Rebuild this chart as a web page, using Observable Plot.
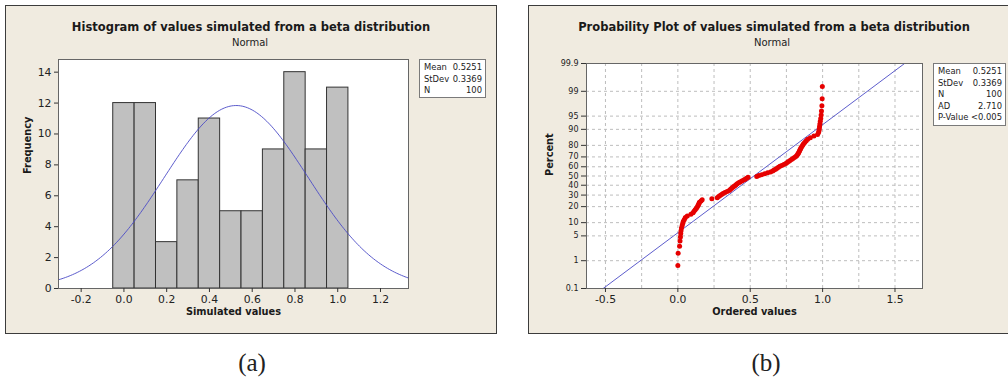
<!DOCTYPE html>
<html>
<head>
<meta charset="utf-8">
<script src="https://cdn.jsdelivr.net/npm/d3@7"></script>
<script src="https://cdn.jsdelivr.net/npm/@observablehq/plot@0.6"></script>
<style>
  html, body { margin: 0; padding: 0; background: #ffffff; }
  #page { position: relative; width: 1008px; height: 381px; overflow: hidden; font-family: "DejaVu Sans", sans-serif; color: #1a1a1a; }
  .panel { position: absolute; top: 5px; width: 490px; height: 327px; background: #f0ebe0; border: 1.5px solid #3c3c3c; }
  .title { position: absolute; width: 600px; text-align: center; font-weight: bold; font-size: 11.5px; white-space: nowrap; }
  .subtitle { position: absolute; width: 200px; text-align: center; font-size: 10px; white-space: nowrap; color: #222; }
  .stats { position: absolute; background: #ffffff; border: 1px solid #7a7a7a; font-size: 8.4px; line-height: 11.6px; padding: 2px 3px 0 4px; box-sizing: border-box; color: #222; }
  .stats div { display: flex; justify-content: space-between; }
  .plotbox { position: absolute; top: 0; }
  .caption { position: absolute; width: 100px; text-align: center; font-family: "Liberation Serif", serif; font-size: 25px; line-height: 30px; color: #222; }
</style>
</head>
<body>
<div id="page"></div>
<script>
// ---------- Histogram data ----------
const histEdges = [-0.05, 0.05, 0.15, 0.25, 0.35, 0.45, 0.55, 0.65, 0.75, 0.85, 0.95, 1.05];
const histCounts = [12, 12, 3, 7, 11, 5, 5, 9, 14, 9, 13];
const histXTicks = [-0.2, 0.0, 0.2, 0.4, 0.6, 0.8, 1.0, 1.2];
const histYTicks = [0, 2, 4, 6, 8, 10, 12, 14];

// ---------- Fitted normal summary ----------
const statNames = ["Mean", "StDev", "N", "AD", "P-Value"];
const statValues = ["0.5251", "0.3369", "100", "2.710", "<0.005"];
const fitMean = 0.5251;
const fitSd = 0.3369;
const sampleN = 100;
const binWidth = 0.1;

// ---------- Ordered sample values (probability plot) ----------
const orderedValues = [
  0.000, 0.002, 0.012, 0.015, 0.018, 0.020, 0.022, 0.025, 0.030, 0.034, 0.038, 0.045,
  0.052, 0.065, 0.090, 0.105, 0.112, 0.120, 0.127, 0.133, 0.138, 0.143, 0.147, 0.149,
  0.160, 0.168, 0.235,
  0.272, 0.282, 0.292, 0.302, 0.312, 0.325, 0.340,
  0.355, 0.362, 0.370, 0.378, 0.386, 0.394, 0.402, 0.410, 0.420, 0.430, 0.442,
  0.455, 0.465, 0.475, 0.485, 0.545,
  0.560, 0.580, 0.600, 0.620, 0.640,
  0.655, 0.665, 0.675, 0.685, 0.695, 0.705, 0.718, 0.732, 0.746,
  0.755, 0.765, 0.775, 0.785, 0.795, 0.805, 0.815, 0.822, 0.828, 0.832, 0.836, 0.840, 0.844, 0.848,
  0.852, 0.858, 0.864, 0.870, 0.878, 0.887, 0.897, 0.915, 0.940,
  0.965, 0.972, 0.975, 0.977, 0.979, 0.981, 0.984, 0.987, 0.990, 0.992, 0.995, 0.997, 0.998
];
const probPercentTicks = [0.1, 1, 5, 10, 20, 30, 40, 50, 60, 70, 80, 90, 95, 99, 99.9];
const probXTicks = [-0.5, 0.0, 0.5, 1.0, 1.5];
const probXGrid = [-0.5, -0.25, 0, 0.25, 0.5, 0.75, 1.0, 1.25, 1.5];

// Inverse standard normal CDF (Acklam's rational approximation)
function probit(p) {
  const a = [-3.969683028665376e+01, 2.209460984245205e+02, -2.759285104469687e+02, 1.383577518672690e+02, -3.066479806614716e+01, 2.506628277459239e+00];
  const b = [-5.447609879822406e+01, 1.615858368580409e+02, -1.556989798598866e+02, 6.680131188771972e+01, -1.328068155288572e+01];
  const c = [-7.784894002430293e-03, -3.223964580411365e-01, -2.400758277161838e+00, -2.549671010432133e+00, 4.374664141464968e+00, 2.938163982698783e+00];
  const d = [7.784695709041462e-03, 3.224671290700398e-01, 2.445134137142996e+00, 3.754408661907416e+00];
  const pl = 0.02425, ph = 1 - pl;
  if (p < pl) {
    const q = Math.sqrt(-2 * Math.log(p));
    return (((((c[0]*q+c[1])*q+c[2])*q+c[3])*q+c[4])*q+c[5]) / ((((d[0]*q+d[1])*q+d[2])*q+d[3])*q+1);
  }
  if (p <= ph) {
    const q = p - 0.5, r = q * q;
    return (((((a[0]*r+a[1])*r+a[2])*r+a[3])*r+a[4])*r+a[5])*q / (((((b[0]*r+b[1])*r+b[2])*r+b[3])*r+b[4])*r+1);
  }
  const q = Math.sqrt(-2 * Math.log(1 - p));
  return -(((((c[0]*q+c[1])*q+c[2])*q+c[3])*q+c[4])*q+c[5]) / ((((d[0]*q+d[1])*q+d[2])*q+d[3])*q+1);
}

const fmt1 = d => d.toFixed(1);
const FONT = "DejaVu Sans, sans-serif";
const page = document.getElementById("page");

function addDiv(cls, css, html) {
  const el = document.createElement("div");
  el.className = cls;
  Object.assign(el.style, css);
  if (html != null) el.innerHTML = html;
  page.appendChild(el);
  return el;
}

function addStats(left, top, width, height, count) {
  const box = addDiv("stats", {left: left + "px", top: top + "px", width: width + "px", height: height + "px"});
  for (let i = 0; i < count; ++i) {
    const row = document.createElement("div");
    row.innerHTML = `<span>${statNames[i]}</span><span>${statValues[i].replace("<", "&lt;")}</span>`;
    box.appendChild(row);
  }
}

// ---------- Panel (a): histogram with fitted normal ----------
addDiv("panel", {left: "5px"});
addDiv("title", {left: (251 - 300) + "px", top: "20px"}, "Histogram of values simulated from a beta distribution");
addDiv("subtitle", {left: (250 - 100) + "px", top: "37px"}, "Normal");

const bars = histCounts.map((count, i) => ({x1: histEdges[i], x2: histEdges[i + 1], count}));
const xDomA = [-0.306, 1.331];
const curve = d3.range(0, 201).map(k => {
  const x = xDomA[0] + (xDomA[1] - xDomA[0]) * k / 200;
  const z = (x - fitMean) / fitSd;
  return {x, y: sampleN * binWidth * Math.exp(-0.5 * z * z) / (fitSd * Math.sqrt(2 * Math.PI))};
});

const plotA = Plot.plot({
  width: 430, height: 335,
  marginLeft: 58, marginRight: 22, marginTop: 59, marginBottom: 47,
  style: {background: "transparent", fontFamily: FONT, fontSize: "10.8px", color: "#222", maxWidth: "none"},
  x: {domain: xDomA, label: null},
  y: {domain: [0, 14.82], label: null},
  marks: [
    Plot.frame({fill: "#ffffff", stroke: "none"}),
    Plot.rectY(bars, {x1: "x1", x2: "x2", y: "count", fill: "#c0c0c0", stroke: "#333", strokeWidth: 1, insetLeft: 0, insetRight: 0}),
    Plot.line(curve, {x: "x", y: "y", stroke: "#4b4bc6", strokeWidth: 0.9}),
    Plot.frame({stroke: "#666", strokeWidth: 1}),
    Plot.axisX(histXTicks, {tickFormat: fmt1, tickSize: 4, tickPadding: 3, label: null, stroke: "#333"}),
    Plot.axisY(histYTicks, {tickSize: 4, tickPadding: 3, label: null, stroke: "#333"}),
    Plot.text(["Frequency"], {frameAnchor: "left", dx: -31, rotate: -90, fontWeight: "bold", fontSize: 9.8, fill: "#1a1a1a"}),
    Plot.text(["Simulated values"], {frameAnchor: "bottom", dy: 26, fontWeight: "bold", fontSize: 9.8, fill: "#1a1a1a"})
  ]
});
const boxA = addDiv("plotbox", {left: "0px"});
boxA.appendChild(plotA);
addStats(419, 59, 67, 39, 3);

// ---------- Panel (b): normal probability plot ----------
addDiv("panel", {left: "528px"});
addDiv("title", {left: (774 - 300) + "px", top: "20px"}, "Probability Plot of values simulated from a beta distribution");
addDiv("subtitle", {left: (772 - 100) + "px", top: "37px"}, "Normal");

const n = orderedValues.length;
const points = orderedValues.map((v, i) => ({v, z: probit((i + 1 - 0.3) / (n + 0.4))}));
const zLo = probit(0.001), zHi = probit(0.999);
const fitLine = [zLo, zHi].map(z => ({x: fitMean + z * fitSd, z}));
const zTicks = probPercentTicks.map(p => probit(p / 100));
const zLabel = new Map(zTicks.map((z, i) => [z, String(probPercentTicks[i])]));

const plotB = Plot.plot({
  width: 414, height: 335,
  marginLeft: 58, marginRight: 20, marginTop: 63, marginBottom: 47,
  style: {background: "transparent", fontFamily: FONT, fontSize: "10.8px", color: "#222", maxWidth: "none"},
  x: {domain: [-0.631, 1.690], label: null},
  y: {domain: [zLo, zHi], label: null},
  marks: [
    Plot.frame({fill: "#ffffff", stroke: "none"}),
    Plot.ruleX(probXGrid, {stroke: "#bdbdbd", strokeDasharray: "3,3", strokeWidth: 1}),
    Plot.ruleY(zTicks, {stroke: "#bdbdbd", strokeDasharray: "3,3", strokeWidth: 1}),
    Plot.line(fitLine, {x: "x", y: "z", stroke: "#4b4bc6", strokeWidth: 0.9}),
    Plot.dot(points, {x: "v", y: "z", r: 2.5, fill: "#e60000", stroke: "none"}),
    Plot.frame({stroke: "#666", strokeWidth: 1}),
    Plot.axisX(probXTicks, {tickFormat: fmt1, tickSize: 4, tickPadding: 3, label: null, stroke: "#333"}),
    Plot.axisY(zTicks, {tickFormat: z => zLabel.get(z), tickSize: 5, tickPadding: 3, fontSize: 8, label: null, stroke: "#333"}),
    Plot.text(["Percent"], {frameAnchor: "left", dx: -37, rotate: -90, fontWeight: "bold", fontSize: 9.8, fill: "#1a1a1a"}),
    Plot.text(["Ordered values"], {frameAnchor: "bottom", dy: 26, fontWeight: "bold", fontSize: 9.8, fill: "#1a1a1a"})
  ]
});
const boxB = addDiv("plotbox", {left: "528px"});
boxB.appendChild(plotB);
addStats(933, 63, 73, 63, 5);

// ---------- Captions ----------
addDiv("caption", {left: (252 - 50) + "px", top: "348px"}, "(a)");
addDiv("caption", {left: (766 - 50) + "px", top: "348px"}, "(b)");
</script>
</body>
</html>
